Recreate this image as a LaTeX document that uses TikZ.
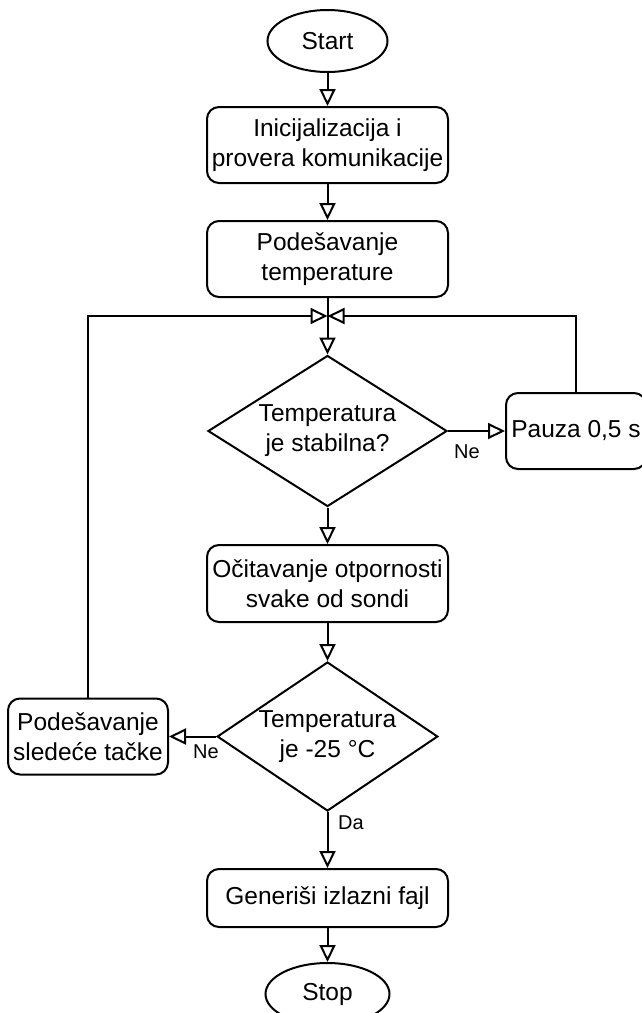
\documentclass[tikz,border=0pt]{standalone}
\usepackage{fontspec}
\setmainfont{Liberation Sans}
\usetikzlibrary{shapes.geometric,arrows.meta}
\begin{document}
\begin{tikzpicture}[x=0.5pt,y=-0.5pt,
  every node/.style={font=\fontsize{12.25pt}{15pt}\selectfont},
  proc/.style={draw, line width=1pt, rounded corners=6pt, align=center, inner sep=0pt},
  term/.style={draw, ellipse, line width=1pt, inner sep=0pt},
  cond/.style={draw, diamond, aspect=1.6, line width=1pt, align=center, inner sep=0pt},
  flow/.style={line width=1pt, -{Triangle[open, length=8.5pt, width=8pt]}},
  lbl/.style={font=\fontsize{10pt}{12pt}\selectfont}]
\useasboundingbox (0,0) rectangle (642,1013);
\node[term, minimum width=60pt, minimum height=31pt] (start) at (327.5,41){Start};
\node[proc, minimum width=120.5pt, minimum height=38pt] (init) at (327.5,145){Inicijalizacija i\\provera komunikacije};
\node[proc, minimum width=120.5pt, minimum height=38pt] (podes) at (327.5,259){Podešavanje\\temperature};
\coordinate (join) at (327.5,316);
\node[cond, minimum width=119.5pt, minimum height=75.5pt] (stab) at (327.5,431){Temperatura\\je stabilna?};
\node[proc, minimum width=70pt, minimum height=38pt] (pauza) at (576,431){Pauza 0,5 s};
\node[proc, minimum width=120.5pt, minimum height=38.5pt] (ocit) at (327.5,583.5){Očitavanje otpornosti\\svake od sondi};
\node[cond, minimum width=109.5pt, minimum height=74.5pt] (temp) at (327.5,736.5){Temperatura\\je -25 °C};
\node[proc, minimum width=80pt, minimum height=38pt] (sled) at (88,736.5){Podešavanje\\sledeće tačke};
\node[proc, minimum width=120.5pt, minimum height=29pt] (gen) at (327.5,898){Generiši izlazni fajl};
\node[term, minimum width=62pt, minimum height=31pt] (stop) at (327.5,994){Stop};
\draw[flow](start) -- (init);
\draw[flow](init) -- (podes);
\draw[flow](podes) -- (stab);
\draw[flow](stab) -- (pauza);
\draw[flow](stab) -- (ocit);
\draw[flow](ocit) -- (temp);
\draw[flow](temp) -- (sled);
\draw[flow](temp) -- (gen);
\draw[flow](gen) -- (stop);
\draw[flow](pauza.north) |- (join);
\draw[flow](sled.north) |- (join);
\node[lbl] (ne1) at (467,452){Ne};
\node[lbl] (ne2) at (206,752){Ne};
\node[lbl, anchor=west] (da) at (331,823){Da};
\end{tikzpicture}
\end{document}
